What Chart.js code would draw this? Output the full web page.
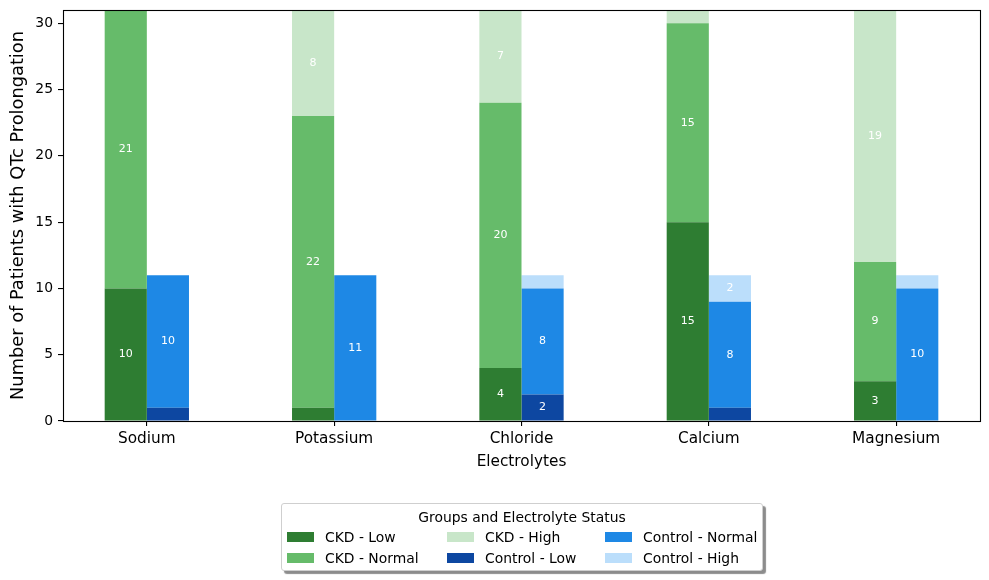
<!DOCTYPE html>
<html>
<head>
<meta charset="utf-8">
<script src="https://cdn.jsdelivr.net/npm/chart.js@4.4.1/dist/chart.umd.min.js"></script>
<style>
html,body{margin:0;padding:0;background:#fff;}
#wrap{position:relative;width:989px;height:580px;font-family:"DejaVu Sans",sans-serif;color:#000;}
#c{position:absolute;left:0;top:0;}
#legend{position:absolute;left:281px;top:503px;width:480px;height:66px;border:1px solid #cfcfcf;border-radius:3px;background:#fff;box-shadow:3px 3px 1px rgba(0,0,0,0.45);}
#legend .title{position:absolute;left:0;width:100%;top:4px;text-align:center;font-size:13.9px;line-height:18px;}
#legend .item{position:absolute;height:18px;font-size:13.9px;line-height:18px;white-space:nowrap;}
#legend .sw{position:absolute;left:0;top:4px;width:27px;height:10px;}
#legend .lbl{position:absolute;left:38px;top:0;}
</style>
</head>
<body>
<div id="wrap">
<canvas id="c" width="989" height="580"></canvas>
<div id="legend"></div>
</div>
<script>
// ---- data ----
const categories = ['Sodium', 'Potassium', 'Chloride', 'Calcium', 'Magnesium'];
const ckdLow        = [10, 1, 4, 15, 3];
const ckdNormal     = [21, 22, 20, 15, 9];
const ckdHigh       = [0, 8, 7, 1, 19];
const controlLow    = [1, 0, 2, 1, 0];
const controlNormal = [10, 11, 8, 8, 10];
const controlHigh   = [0, 0, 1, 2, 1];
const yTickValues   = [0, 5, 10, 15, 20, 25, 30];
const seriesNames   = ['CKD - Low', 'CKD - Normal', 'CKD - High', 'Control - Low', 'Control - Normal', 'Control - High'];
const legendTitle   = 'Groups and Electrolyte Status';
const xTitle = 'Electrolytes';
const yTitle = 'Number of Patients with QTc Prolongation';

const seriesValues = [ckdLow, ckdNormal, ckdHigh, controlLow, controlNormal, controlHigh];
const seriesStacks = ['CKD', 'CKD', 'CKD', 'Control', 'Control', 'Control'];
const seriesColors = ['#2e7d32', '#66bb6a', '#c8e6c9', '#0d47a1', '#1e88e5', '#bbdefb'];

const FONT = '"DejaVu Sans", sans-serif';

const datasets = seriesNames.map((name, k) => ({
  label: name,
  stack: seriesStacks[k],
  backgroundColor: seriesColors[k],
  borderWidth: 0,
  data: seriesValues[k].map((v, i) => ({ x: i, y: v }))
}));

const segLabels = {
  id: 'segLabels',
  afterDatasetsDraw(chart) {
    const ctx = chart.ctx;
    ctx.save();
    ctx.font = '11px ' + FONT;
    ctx.fillStyle = '#ffffff';
    ctx.textAlign = 'center';
    ctx.textBaseline = 'middle';
    chart.data.datasets.forEach((ds, di) => {
      const meta = chart.getDatasetMeta(di);
      meta.data.forEach((el, i) => {
        const v = ds.data[i].y;
        if (v > 1) ctx.fillText(String(v), el.x, (el.y + el.base) / 2);
      });
    });
    ctx.restore();
  }
};

const frame = {
  id: 'frame',
  afterDraw(chart) {
    const a = chart.chartArea;
    const ctx = chart.ctx;
    ctx.save();
    ctx.strokeStyle = '#000';
    ctx.lineWidth = 1.1;
    ctx.strokeRect(Math.round(a.left) + 0.5, Math.round(a.top) + 0.5,
                   Math.round(a.right - a.left), Math.round(a.bottom - a.top));
    ctx.restore();
  }
};

new Chart(document.getElementById('c'), {
  type: 'bar',
  data: { datasets },
  plugins: [segLabels, frame],
  options: {
    responsive: false,
    animation: false,
    devicePixelRatio: 1,
    layout: { padding: { left: 0, right: 9, top: 10, bottom: 0 } },
    categoryPercentage: 0.45,
    barPercentage: 1.0,
    plugins: { legend: { display: false }, tooltip: { enabled: false } },
    scales: {
      x: {
        type: 'linear',
        offset: false,
        min: -0.4475,
        max: 4.4475,
        stacked: true,
        afterBuildTicks: (axis) => { axis.ticks = categories.map((c, i) => ({ value: i })); },
        afterFit: (axis) => { axis.height = 159; axis.paddingLeft = 0; axis.paddingRight = 0; },
        ticks: {
          callback: (v) => categories[v],
          color: '#000',
          font: { family: FONT, size: 15.3 },
          padding: 4,
          maxRotation: 0,
          autoSkip: false
        },
        grid: { offset: false, drawOnChartArea: false, drawTicks: true, tickLength: 5, color: '#000', lineWidth: 1.1 },
        border: { display: false },
        title: {
          display: true, text: xTitle, color: '#000',
          font: { family: FONT, size: 15.3, lineHeight: 1.2 },
          padding: { top: 0, bottom: 109 }
        }
      },
      y: {
        min: 0,
        max: 31,
        stacked: true,
        afterBuildTicks: (axis) => { axis.ticks = yTickValues.map(v => ({ value: v })); },
        afterFit: (axis) => { axis.width = 63; axis.paddingTop = 0; axis.paddingBottom = 0; },
        ticks: {
          color: '#000',
          font: { family: FONT, size: 13.9 },
          padding: 5
        },
        grid: { drawOnChartArea: false, drawTicks: true, tickLength: 5, color: '#000', lineWidth: 1.1 },
        border: { display: false },
        title: {
          display: true, text: yTitle, color: '#000',
          font: { family: FONT, size: 17.8, lineHeight: 1.2 },
          padding: { top: 7.8, bottom: 0 }
        }
      }
    }
  }
});

// ---- legend (column-major, 3 columns like the reference) ----
const legend = document.getElementById('legend');
const t = document.createElement('div');
t.className = 'title';
t.textContent = legendTitle;
legend.appendChild(t);
const colLefts = [5, 165, 323];
const rowTops = [24, 45];
seriesNames.forEach((name, k) => {
  const col = Math.floor(k / 2), row = k % 2;
  const it = document.createElement('div');
  it.className = 'item';
  it.style.left = colLefts[col] + 'px';
  it.style.top = rowTops[row] + 'px';
  const sw = document.createElement('span');
  sw.className = 'sw';
  sw.style.background = seriesColors[k];
  const lb = document.createElement('span');
  lb.className = 'lbl';
  lb.textContent = name;
  it.appendChild(sw); it.appendChild(lb);
  legend.appendChild(it);
});
</script>
</body>
</html>
